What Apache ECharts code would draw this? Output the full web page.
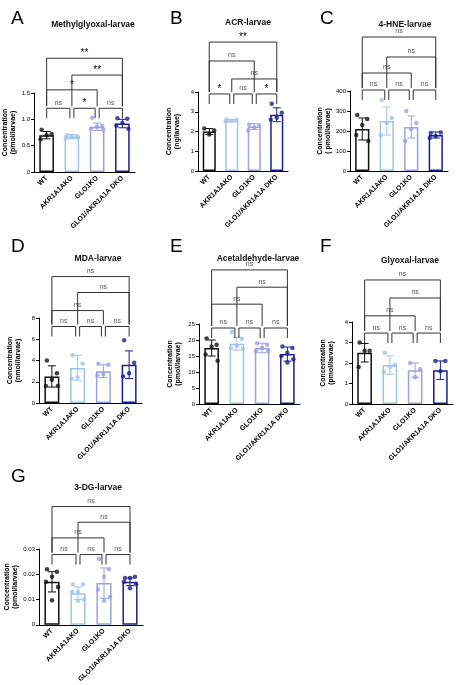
<!DOCTYPE html>
<html><head><meta charset="utf-8">
<script src="https://cdn.jsdelivr.net/npm/echarts@6/dist/echarts.min.js"></script>
<style>html,body{margin:0;background:#fff}#main{width:470px;height:685px}</style>
</head><body><div id="main"></div>
<script>
var groups = ['WT', 'AKR1A1AKO', 'GLO1KO', 'GLO1/AKR1A1A DKO'];
var colors = ['#111111', '#9fc4ea', '#9c9fe2', '#1c1f8f'];

// panel data: mean, sd, points per group
var mgMean = [0.70, 0.67, 0.86, 0.92], mgSd = [0.07, 0.04, 0.07, 0.08];
var mgPts = [[0.80, 0.72, 0.70, 0.62], [0.70, 0.68, 0.67, 0.64, 0.66], [1.03, 0.88, 0.86, 0.82, 0.80], [1.02, 1.01, 0.93, 0.88, 0.82]];
var acrMean = [2.0, 2.55, 2.25, 2.85], acrSd = [0.15, 0.05, 0.15, 0.35];
var acrPts = [[2.15, 2.05, 1.85], [2.6, 2.58, 2.55, 2.52], [2.35, 2.3, 2.2, 2.05], [3.4, 2.95, 2.7, 2.6]];
var hneMean = [210, 250, 220, 180], hneSd = [55, 70, 55, 15];
var hnePts = [[280, 260, 230, 180, 150], [355, 265, 240, 180], [300, 240, 210, 150], [190, 192, 175, 165]];
var mdaMean = [2.5, 3.3, 3.0, 3.6], mdaSd = [1.0, 1.2, 0.6, 1.3];
var mdaPts = [[4.0, 2.8, 2.2, 1.6, 1.6], [4.5, 3.7, 2.4, 2.3], [3.7, 3.6, 2.7, 2.6], [5.9, 3.8, 2.8, 2.5]];
var aceMean = [17.5, 18.8, 17.5, 15.6], aceSd = [2.5, 2.0, 1.5, 2.2];
var acePts = [[20.5, 18.5, 18, 15.5, 13.5], [22.5, 20.3, 18.3, 17.5, 17.3], [19, 18.5, 17.5, 16.5, 16.5], [18, 17.5, 16, 15, 14, 13]];
var glyMean = [2.5, 1.9, 1.65, 1.65], glySd = [0.45, 0.45, 0.35, 0.45];
var glyPts = [[3.0, 2.6, 2.6, 1.8], [2.5, 1.9, 1.8, 1.55], [2.0, 1.7, 1.3], [2.1, 2.1, 1.6]];
var dgMean = [0.017, 0.0125, 0.0165, 0.017], dgSd = [0.004, 0.0025, 0.006, 0.0015];
var dgPts = [[0.022, 0.021, 0.019, 0.017, 0.015, 0.0097], [0.016, 0.016, 0.013, 0.013, 0.010, 0.0095], [0.026, 0.022, 0.019, 0.014, 0.011, 0.0095], [0.0185, 0.019, 0.0185, 0.017, 0.016, 0.0145]];

// brackets: [from, to, level, label]
var mgBr = [[0, 1, 1.21, 'ns'], [1, 2, 1.21, '*'], [2, 3, 1.21, 'ns'], [0, 2, 1.56, '*'], [1, 3, 1.84, '**'], [0, 3, 2.16, '**']];
var acrBr = [[0, 1, 3.9, '*'], [1, 2, 3.9, 'ns'], [2, 3, 3.9, '*'], [1, 3, 4.66, 'ns'], [0, 2, 5.57, 'ns'], [0, 3, 6.53, '**']];
var hneBr = [[0, 1, 405, 'ns'], [1, 2, 405, 'ns'], [2, 3, 405, 'ns'], [0, 2, 490, 'ns'], [1, 3, 570, 'ns'], [0, 3, 670, 'ns']];
var mdaBr = [[0, 1, 7.2, 'ns'], [1, 2, 7.2, 'ns'], [2, 3, 7.2, 'ns'], [0, 2, 8.7, 'ns'], [1, 3, 10.4, 'ns'], [0, 3, 11.9, 'ns']];
var aceBr = [[0, 1, 23.75, 'ns'], [1, 2, 23.75, 'ns'], [2, 3, 23.75, 'ns'], [0, 2, 31.2, 'ns'], [1, 3, 36.5, 'ns'], [0, 3, 41.9, 'ns']];
var glyBr = [[0, 1, 3.46, 'ns'], [1, 2, 3.46, 'ns'], [2, 3, 3.46, 'ns'], [0, 2, 4.3, 'ns'], [1, 3, 5.17, 'ns'], [0, 3, 6.05, 'ns']];
var dgBr = [[0, 1, 0.0278, 'ns'], [1, 2, 0.0278, 'ns'], [2, 3, 0.0278, 'ns'], [0, 2, 0.0344, 'ns'], [1, 3, 0.0406, 'ns'], [0, 3, 0.0468, 'ns']];

var panels = [
  {L: 'A', title: 'Methylglyoxal-larvae', unit: '(pmol/larvae)', mean: mgMean, sd: mgSd, pts: mgPts, br: mgBr, max: 1.5, iv: 0.5, fmt: function (v) { return v === 0 ? '0' : v.toFixed(1); }, g: [34, 93, 135, 172], lx: 6, ly: 4, tx: 88, ty: 15},
  {L: 'B', title: 'ACR-larvae', unit: '(ng/larvae)', mean: acrMean, sd: acrSd, pts: acrPts, br: acrBr, max: 4, iv: 1, g: [198, 92, 288, 171], lx: 165, ly: 4, tx: 243, ty: 13},
  {L: 'C', title: '4-HNE-larvae', unit: '( pmol/larvae)', mean: hneMean, sd: hneSd, pts: hnePts, br: hneBr, max: 400, iv: 100, g: [350, 91, 448, 171], lx: 315, ly: 4, tx: 400, ty: 15},
  {L: 'D', title: 'MDA-larvae', unit: '(nmol/larvae)', mean: mdaMean, sd: mdaSd, pts: mdaPts, br: mdaBr, max: 8, iv: 2, g: [39, 318, 142, 403], lx: 6, ly: 232, tx: 93, ty: 249},
  {L: 'E', title: 'Acetaldehyde-larvae', unit: '(pmol/larvae)', mean: aceMean, sd: aceSd, pts: acePts, br: aceBr, max: 25, iv: 5, g: [199, 324, 300, 404], lx: 165, ly: 232, tx: 253, ty: 249},
  {L: 'F', title: 'Glyoxal-larvae', unit: '(pmol/larvae)', mean: glyMean, sd: glySd, pts: glyPts, br: glyBr, max: 4, iv: 1, g: [352, 322, 453, 404], lx: 315, ly: 232, tx: 405, ty: 251},
  {L: 'G', title: '3-DG-larvae', unit: '(pmol/larvae)', mean: dgMean, sd: dgSd, pts: dgPts, br: dgBr, max: 0.03, iv: 0.01, fmt: function (v) { return v === 0 ? '0' : v.toFixed(2); }, g: [39, 549, 143, 631], lx: 6, ly: 462, tx: 93, ty: 478}
];

var offs = [-5, 5, 0, -6, 6, 0];
var option = {animation: false, backgroundColor: '#fff', title: [], grid: [], xAxis: [], yAxis: [], series: []};

panels.forEach(function (p, k) {
  option.title.push({text: p.L, left: p.lx, top: p.ly, textStyle: {fontSize: 19, fontWeight: 'normal', color: '#000', fontFamily: 'Liberation Sans'}});
  option.title.push({text: p.title, left: p.tx, top: p.ty, textAlign: 'center', textStyle: {fontSize: 8.5, fontWeight: 'bold', color: '#111', fontFamily: 'Liberation Sans'}});
  option.grid.push({left: p.g[0], top: p.g[1], width: p.g[2] - p.g[0], height: p.g[3] - p.g[1]});
  option.xAxis.push({type: 'category', gridIndex: k, data: groups,
    axisLine: {lineStyle: {color: '#000', width: 1}}, axisTick: {alignWithLabel: true, length: 3, lineStyle: {color: '#000'}},
    axisLabel: {rotate: 45, fontSize: 7, color: '#000', fontWeight: 'bold', interval: 0, margin: 5, fontFamily: 'Liberation Sans'}});
  option.yAxis.push({type: 'value', gridIndex: k, min: 0, max: p.max, interval: p.iv,
    name: 'Concentration\n' + p.unit, nameLocation: 'middle', nameGap: 17,
    nameTextStyle: {fontSize: 7, fontWeight: 'bold', color: '#000', lineHeight: 8, fontFamily: 'Liberation Sans'},
    splitLine: {show: false}, axisLine: {show: true, lineStyle: {color: '#000'}}, axisTick: {show: true, length: 3, lineStyle: {color: '#000'}},
    axisLabel: {fontSize: 6, color: '#000', margin: 4, formatter: p.fmt}});
  option.series.push({type: 'bar', xAxisIndex: k, yAxisIndex: k, barWidth: '58%',
    data: p.mean.map(function (v, i) { return {value: v, itemStyle: {color: '#fff', borderColor: colors[i], borderWidth: 1.5}}; })});
  option.series.push({type: 'custom', xAxisIndex: k, yAxisIndex: k, z: 5,
    data: p.mean.map(function (v, i) { return [i, v - p.sd[i], v + p.sd[i]]; }),
    renderItem: function (params, api) {
      var i = api.value(0), lo = api.coord([i, api.value(1)]), hi = api.coord([i, api.value(2)]);
      var st = {stroke: colors[i], lineWidth: 1};
      return {type: 'group', children: [
        {type: 'line', shape: {x1: lo[0], y1: lo[1], x2: hi[0], y2: hi[1]}, style: st},
        {type: 'line', shape: {x1: lo[0] - 4, y1: lo[1], x2: lo[0] + 4, y2: lo[1]}, style: st},
        {type: 'line', shape: {x1: hi[0] - 4, y1: hi[1], x2: hi[0] + 4, y2: hi[1]}, style: st}]};
    }});
  var sc = [];
  p.pts.forEach(function (arr, i) {
    arr.forEach(function (v, j) { sc.push({value: [i, v], symbolOffset: [offs[j % 6], 0], itemStyle: {color: colors[i]}}); });
  });
  option.series.push({type: 'scatter', xAxisIndex: k, yAxisIndex: k, symbolSize: 4.5, z: 6, data: sc});
  var base = p.br[0][2];
  option.series.push({type: 'custom', xAxisIndex: k, yAxisIndex: k, clip: false, z: 7,
    data: p.br.map(function (b) { return [b[0], b[1], b[2]]; }),
    renderItem: function (params, api) {
      var b = p.br[params.dataIndex];
      var a = api.coord([b[0], b[2]]), c = api.coord([b[1], b[2]]);
      var adj = (b[1] - b[0] === 1);
      var x1 = a[0] + (adj && b[0] > 0 ? 2 : 0), x2 = c[0] - (adj && b[1] < 3 ? 2 : 0);
      var drop = adj ? 10 : (api.coord([0, base])[1] - a[1] - 2);
      var st = {stroke: '#333', lineWidth: 1, fill: null};
      var star = b[3] !== 'ns';
      return {type: 'group', children: [
        {type: 'polyline', shape: {points: [[x1, a[1] + drop], [x1, a[1]], [x2, a[1]], [x2, a[1] + drop]]}, style: st},
        {type: 'text', x: (x1 + x2) / 2, y: a[1] - (star ? 0 : 2), style: {text: b[3], fill: star ? '#000' : '#555', fontSize: star ? 10 : 7, align: 'center', verticalAlign: 'bottom', fontFamily: 'Liberation Sans'}}]};
    }});
});

var chart = echarts.init(document.getElementById('main'));
chart.setOption(option);
</script>
</body></html>
